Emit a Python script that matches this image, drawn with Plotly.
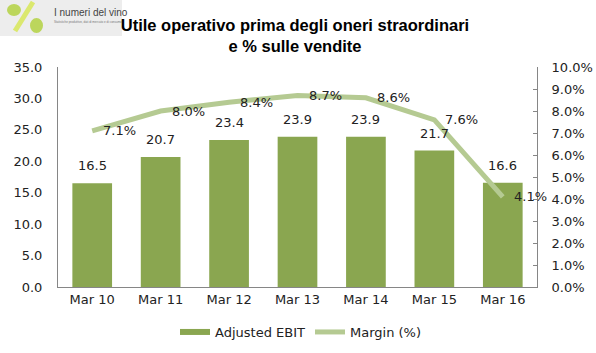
import plotly.graph_objects as go

categories = ["Mar 10", "Mar 11", "Mar 12", "Mar 13", "Mar 14", "Mar 15", "Mar 16"]
ebit = [16.5, 20.7, 23.4, 23.9, 23.9, 21.7, 16.6]
margin = [7.1, 8.0, 8.4, 8.7, 8.6, 7.6, 4.1]
left_ticks = [0, 5, 10, 15, 20, 25, 30, 35]
right_ticks = [0, 1, 2, 3, 4, 5, 6, 7, 8, 9, 10]

W, H = 596, 353
L, R, T, B = 58, 59, 67, 66
pw, ph = W - L - R, H - T - B

BAR_COLOR = "#8aa650"
LINE_COLOR = "#b5ca92"
TXT = dict(family="DejaVu Sans", size=13, color="#222222")

def px(x):
    return (x - L) / pw

def py(y):
    return (H - B - y) / ph

fig = go.Figure()
fig.add_trace(go.Bar(
    x=categories, y=ebit, name="Adjusted EBIT", showlegend=False,
    marker=dict(color=BAR_COLOR, line=dict(width=0)),
))
fig.add_trace(go.Scatter(
    x=categories, y=margin, name="Margin (%)", yaxis="y2", showlegend=False,
    mode="lines", line=dict(color=LINE_COLOR, width=5),
))
# legend-only entries (wide swatches like the reference)
fig.add_trace(go.Scatter(x=[None], y=[None], mode="lines", name="Adjusted EBIT",
                         line=dict(color=BAR_COLOR, width=6)))
fig.add_trace(go.Scatter(x=[None], y=[None], mode="lines", name="Margin (%)",
                         line=dict(color=LINE_COLOR, width=5)))

annotations = [
    dict(x=c, y=v, xref="x", yref="y", text=f"{v:.1f}", showarrow=False,
         yanchor="bottom", yshift=8, font=TXT)
    for c, v in zip(categories, ebit)
]
annotations += [
    dict(x=c, y=v, xref="x", yref="y2", text=f"{v:.1f}%", showarrow=False,
         xanchor="left", yanchor="middle", xshift=9, font=TXT)
    for c, v in zip(categories, margin)
]
annotations += [
    dict(text="I numeri del vino", xref="paper", yref="paper", x=px(52), y=py(12),
         xanchor="left", yanchor="middle", showarrow=False,
         font=dict(family="Liberation Sans", size=10, color="#444444")),
    dict(text="Statistiche produttive, dati di mercato e di consumo", xref="paper", yref="paper",
         x=px(52), y=py(22), xanchor="left", yanchor="middle", showarrow=False,
         font=dict(family="Liberation Sans", size=3, color="#777777")),
]

shapes = [
    dict(type="rect", xref="paper", yref="paper", x0=px(0), x1=px(122), y0=py(36), y1=py(0),
         fillcolor="#ededed", line=dict(width=0), layer="below"),
    dict(type="line", xref="paper", yref="paper", x0=px(15), y0=py(31), x1=px(33), y1=py(2),
         line=dict(color="#dbe86e", width=5)),
    dict(type="circle", xref="paper", yref="paper", x0=px(7), x1=px(21), y0=py(16), y1=py(4),
         fillcolor="#bcd65c", line=dict(width=0)),
    dict(type="circle", xref="paper", yref="paper", x0=px(30), x1=px(43), y0=py(33), y1=py(18),
         fillcolor="#bcd65c", line=dict(width=0)),
]

fig.update_layout(
    width=W, height=H,
    margin=dict(l=L, r=R, t=T, b=B, autoexpand=False),
    paper_bgcolor="white", plot_bgcolor="white",
    bargap=0.42,
    font=TXT,
    title=dict(text="<b>Utile operativo prima degli oneri straordinari<br>e % sulle vendite</b>",
               x=295 / W, xanchor="center", y=1 - 31 / H, yanchor="middle",
               font=dict(family="Liberation Sans Narrow, Liberation Sans", size=16.5, color="#000000")),
    xaxis=dict(range=[-0.5, len(categories) - 0.5], autorange=False,
               showline=True, linecolor="#868686", linewidth=1, ticks="",
               tickfont=dict(size=13), showgrid=False),
    yaxis=dict(range=[0, 35], tickvals=left_ticks, ticktext=[f"{v:.1f}" for v in left_ticks],
               showline=True, linecolor="#868686", showgrid=False, zeroline=False, ticks="",
               ticklabelstandoff=12, tickfont=dict(size=13)),
    yaxis2=dict(range=[0, 10], tickvals=right_ticks, ticktext=[f"{v:.1f}%" for v in right_ticks],
                overlaying="y", side="right", showline=True, linecolor="#868686",
                showgrid=False, zeroline=False, ticks="inside", ticklen=4, tickcolor="#868686",
                ticklabelstandoff=11, tickfont=dict(size=13)),
    legend=dict(orientation="h", x=px(301), xanchor="center", y=py(332), yanchor="middle",
                font=dict(size=13), traceorder="normal", itemwidth=30,
                bgcolor="rgba(0,0,0,0)"),
    showlegend=True,
    shapes=shapes,
    annotations=annotations,
)
fig.write_html("out.html")
